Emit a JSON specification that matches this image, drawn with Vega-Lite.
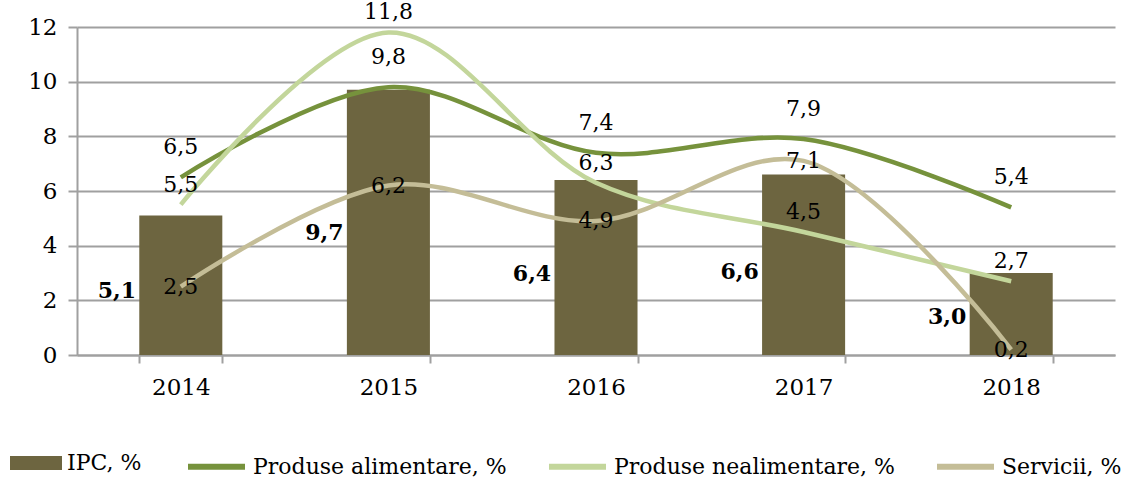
{
  "$schema": "https://vega.github.io/schema/vega-lite/v6.json",
  "width": 1038,
  "height": 328,
  "autosize": {"type": "none"},
  "padding": {"left": 77, "top": 27, "right": 8, "bottom": 124},
  "background": "white",
  "config": {
    "font": "DejaVu Serif",
    "view": {"stroke": null},
    "locale": {"number": {"decimal": ",", "thousands": ".", "grouping": [3], "currency": ["", " lei"]}},
    "legend": {"labelFont": "DejaVu Serif", "labelFontSize": 22, "labelColor": "black", "padding": 0, "labelLimit": 500}
  },
  "datasets": {
    "ipc": [
      {"year": "2014", "IPC": 5.1},
      {"year": "2015", "IPC": 9.7},
      {"year": "2016", "IPC": 6.4},
      {"year": "2017", "IPC": 6.6},
      {"year": "2018", "IPC": 3.0}
    ],
    "lines": [
      {"year": "2014", "series": "Produse alimentare, %", "value": 6.5},
      {"year": "2015", "series": "Produse alimentare, %", "value": 9.8},
      {"year": "2016", "series": "Produse alimentare, %", "value": 7.4},
      {"year": "2017", "series": "Produse alimentare, %", "value": 7.9},
      {"year": "2018", "series": "Produse alimentare, %", "value": 5.4},
      {"year": "2014", "series": "Produse nealimentare, %", "value": 5.5},
      {"year": "2015", "series": "Produse nealimentare, %", "value": 11.8},
      {"year": "2016", "series": "Produse nealimentare, %", "value": 6.3},
      {"year": "2017", "series": "Produse nealimentare, %", "value": 4.5},
      {"year": "2018", "series": "Produse nealimentare, %", "value": 2.7},
      {"year": "2014", "series": "Servicii, %", "value": 2.5},
      {"year": "2015", "series": "Servicii, %", "value": 6.2},
      {"year": "2016", "series": "Servicii, %", "value": 4.9},
      {"year": "2017", "series": "Servicii, %", "value": 7.1},
      {"year": "2018", "series": "Servicii, %", "value": 0.2}
    ]
  },
  "layer": [
    {
      "layer": [
        {
          "data": {"name": "ipc"},
          "mark": {"type": "bar"},
          "encoding": {
            "x": {
              "field": "year", "type": "ordinal",
              "scale": {"paddingInner": 0.6, "paddingOuter": 0.3},
              "axis": {"title": null, "labelAngle": 0, "tickBand": "extent", "tickSize": 8, "tickWidth": 2, "tickColor": "#a0a0a0", "domainColor": "#a0a0a0", "domainWidth": 2, "labelFontSize": 23, "labelColor": "black", "labelPadding": 13, "grid": false}
            },
            "y": {
              "field": "IPC", "type": "quantitative",
              "scale": {"domain": [0, 12]},
              "axis": {"title": null, "values": [0, 2, 4, 6, 8, 10, 12], "grid": true, "gridColor": "#a0a0a0", "gridWidth": 2, "domainColor": "#a0a0a0", "domainWidth": 2, "tickColor": "#a0a0a0", "tickWidth": 2, "tickSize": 9, "labelFontSize": 23, "labelColor": "black", "labelPadding": 11}
            },
            "fill": {
              "datum": "IPC, %", "type": "nominal",
              "scale": {"domain": ["IPC, %"], "range": ["#6d6540"]},
              "legend": {"title": null, "orient": "none", "legendX": -67, "legendY": 410, "symbolType": "M-1,-0.27H1V0.27H-1Z", "symbolSize": 2704, "symbolStrokeWidth": 0, "labelOffset": 5}
            }
          }
        },
        {
          "data": {"name": "lines"},
          "mark": {"type": "line", "interpolate": "catmull-rom", "strokeWidth": 4.5},
          "encoding": {
            "x": {"field": "year", "type": "ordinal"},
            "y": {"field": "value", "type": "quantitative"},
            "stroke": {
              "field": "series", "type": "nominal",
              "scale": {"domain": ["Produse alimentare, %", "Produse nealimentare, %", "Servicii, %"], "range": ["#76923c", "#c3d69b", "#c4bd97"]},
              "legend": {"title": null, "orient": "none", "direction": "horizontal", "legendX": 108, "legendY": 408, "symbolType": "stroke", "symbolSize": 3249, "symbolStrokeWidth": 6, "columnPadding": 30, "labelOffset": 5}
            }
          }
        },
        {
          "data": {"name": "lines"},
          "transform": [{"filter": "datum.series === 'Produse alimentare, %'"}],
          "mark": {"type": "text", "fontSize": 22, "dy": -30, "color": "black"},
          "encoding": {
            "x": {"field": "year", "type": "ordinal"},
            "y": {"field": "value", "type": "quantitative"},
            "text": {"field": "value", "type": "quantitative", "format": ".1f"}
          }
        },
        {
          "data": {"name": "lines"},
          "transform": [{"filter": "datum.series === 'Produse nealimentare, %'"}],
          "mark": {"type": "text", "fontSize": 22, "dy": -20, "color": "black"},
          "encoding": {
            "x": {"field": "year", "type": "ordinal"},
            "y": {"field": "value", "type": "quantitative"},
            "text": {"field": "value", "type": "quantitative", "format": ".1f"}
          }
        },
        {
          "data": {"name": "lines"},
          "transform": [{"filter": "datum.series === 'Servicii, %'"}],
          "mark": {"type": "text", "fontSize": 22, "dy": 0, "color": "black"},
          "encoding": {
            "x": {"field": "year", "type": "ordinal"},
            "y": {"field": "value", "type": "quantitative"},
            "text": {"field": "value", "type": "quantitative", "format": ".1f"}
          }
        }
      ]
    },
    {
      "data": {"name": "ipc"},
      "mark": {"type": "text", "fontSize": 22, "fontWeight": "bold", "dx": -64, "color": "black"},
      "encoding": {
        "x": {"field": "year", "type": "ordinal"},
        "y": {"field": "IPC", "type": "quantitative", "scale": {"domain": [0, 26]}, "axis": null},
        "text": {"field": "IPC", "type": "quantitative", "format": ".1f"}
      }
    }
  ],
  "resolve": {"scale": {"y": "independent"}}
}
